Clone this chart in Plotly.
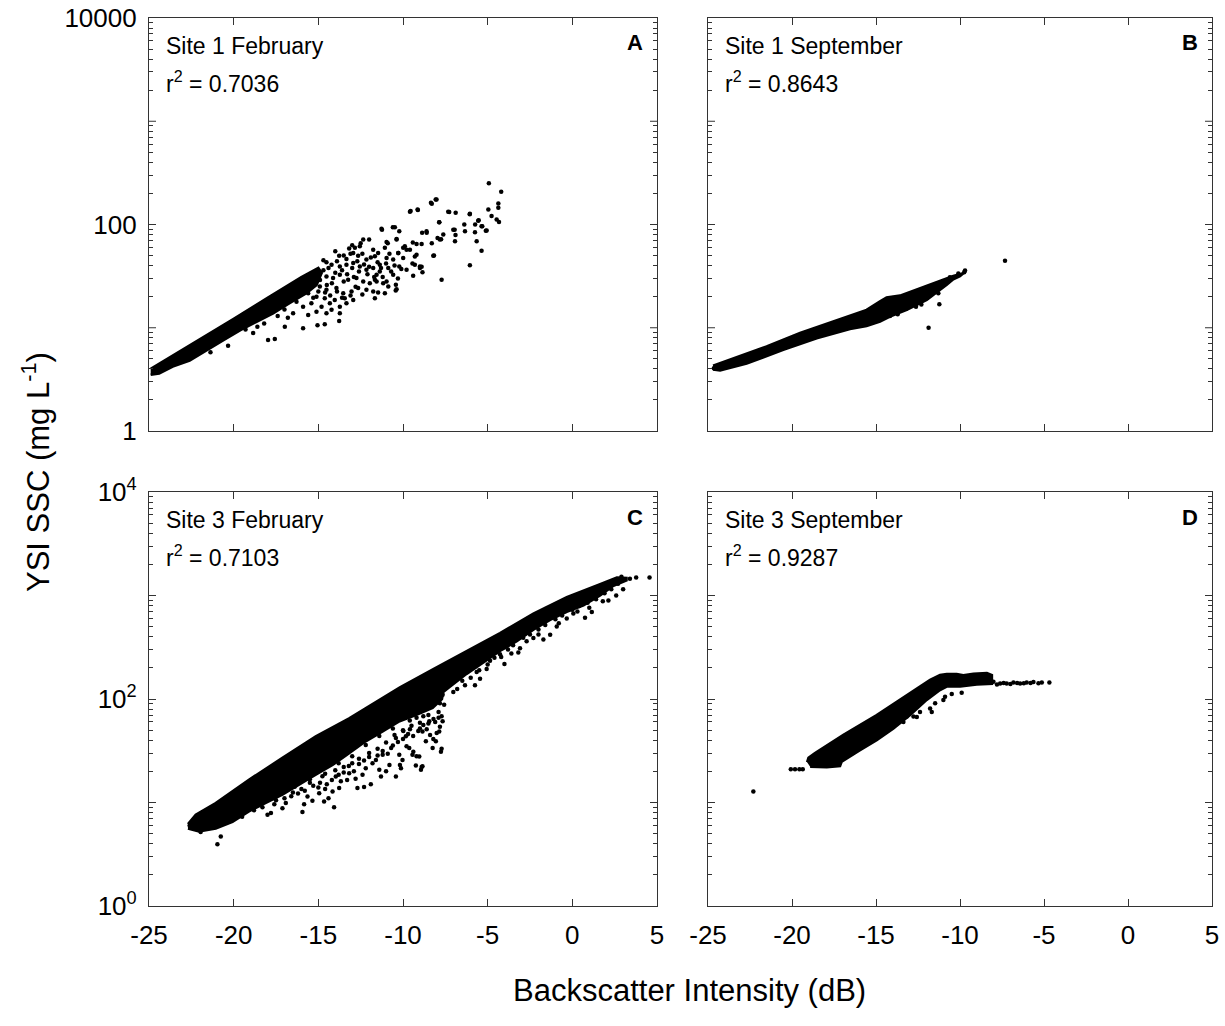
import plotly.graph_objects as go

OFF = 0                      # body margin removed by post_script below
W, H = 1225, 1026
FONT = "Liberation Sans, Arial, Helvetica, sans-serif"

# ---------------- data ----------------
# Panel A: Site 1 February
a_core_x = [-24.9, -22.0, -20.0, -18.0, -16.0, -15.0, -14.8, -15.1, -15.7, -16.7, -17.67, -18.65, -19.6, -20.6, -21.6, -22.6, -23.6, -24.4, -24.9]
a_core_y = [4.0, 7.7, 12.2, 19.5, 31, 38, 34, 26, 21.6, 17.3, 13.8, 11.4, 9.5, 7.6, 6.0, 4.8, 4.2, 3.6, 3.5]
a_x = [-13.18, -12.84, -12.55, -12.35, -12.0, -11.76, -11.47, -12.94, -13.77, -13.34, -12.65, -12.16, -11.66, -11.37,
       -10.97, -10.58, -10.28, -9.99, -9.79, -10.38, -9.59, -14.52, -14.22, -13.73, -13.34, -12.94, -12.55, -12.16,
       -11.76, -11.37, -10.87, -10.58, -10.22, -9.79, -9.30, -9.00, -8.85, -9.40, -14.91, -14.52, -14.13, -13.73,
       -13.24, -12.75, -12.35, -11.96, -11.56, -11.17, -10.87, -10.38, -10.42, -10.97, -15.31, -14.91, -14.52, -13.93,
       -13.53, -13.04, -12.65, -12.16, -11.76, -11.66, -11.47, -11.07, -15.60, -15.11, -14.62, -14.03, -13.44, -12.94,
       -13.73, -14.32, -14.81, -15.41, -15.90, -16.29, -16.49, -15.60, -15.11, -14.52, -14.22, -13.73, -13.34, -13.77,
       -14.62, -15.05, -15.90, -16.98, -17.57, -17.97, -18.85, -20.33, -21.37, -11.56, -11.66,
       -11.27, -10.48, -10.22, -10.97, -10.38, -9.89, -9.20, -8.90, -8.61, -8.87, -9.20, -9.00, -8.21, -7.86, -7.82,
       -7.62, -7.72, -7.03, -6.93, -6.34, -6.05, -5.75, -5.65, -5.36, -5.36, -6.05, -5.06, -9.14, -9.59, -8.35, -8.02,
       -7.33, -6.89, -5.56, -4.96, -4.93, -4.77, -4.37, -4.47, -11.07, -9.99, -4.20, -4.33, -4.37, -6.38, -6.95,
       -6.90, -7.27, -8.30, -8.07, -7.86, -7.75, -8.17, -7.96, -8.30, -8.60, -9.12, -9.55, -9.42, -9.30, -8.90, -9.44,
       -10.28, -10.60, -11.24, -10.90, -10.43, -5.11, -5.53, -5.74, -5.32, -6.06, -14.0, -13.5, -13.0, -12.5, -14.7,
       -15.8, -15.5, -15.2, -14.9, -14.7, -14.4, -14.2, -14.0, -13.9, -13.6, -13.5, -13.3, -13.1, -13.0, -12.9,
       -12.7, -12.6, -12.4, -12.3, -12.1, -12.0, -11.9, -11.7, -11.5, -11.3, -11.2, -11.0, -10.8, -10.7, -10.5,
       -10.3, -10.1, -14.6, -14.3, -13.9, -13.6, -13.1, -12.8, -12.4, -15.3, -15.0, -14.5, -16.3, -16.0, -16.6,
       -17.0, -17.4, -18.2, -16.8, -19.3, -18.6]
a_y = [58.4, 59.4, 61.6, 71.4, 71.4, 57.1, 53, 53, 49.9, 46.3, 49.9, 45.7, 49.2, 40.8,
       47.4, 45.7, 53, 59.4, 57.1, 71.4, 57.1, 43, 40.8, 39.3, 40.8, 42.4, 39.3, 36.5,
       37.8, 35.1, 37.8, 32.6, 39.3, 36.5, 40.8, 37.8, 34.4, 31.9, 33.8, 31.4, 30.3, 32.6,
       29.1, 30.3, 28.1, 27, 28.1, 27, 25.1, 23.6, 26.1, 28.1, 27, 25.1, 23.3, 24.2,
       21.6, 22.4, 24.2, 23.3, 22.4, 19.3, 21.9, 21.6, 21.6, 20, 19.3, 18.6, 19.3, 18.6,
       16, 17.3, 16, 17.3, 16, 17.9, 13.8, 13.3, 14.3, 13.8, 14.9, 13.8, 17.3, 11.6,
       10.8, 10.6, 9.9, 10.2, 7.8, 7.6, 8.9, 6.7, 5.8, 32.6, 29.1,
       91, 94, 86, 67.8, 72.5, 61.6, 64.8, 64.8, 86, 83, 51, 39.3, 49.9, 105, 71.4,
       80, 29.1, 89, 68.9, 86, 127, 84, 68.9, 96, 55.8, 40.2, 87.5, 140, 133, 162, 175,
       133, 130, 109, 140, 251, 121, 145, 112, 59.4, 47.4, 208, 106, 160, 100, 89,
       79, 132, 159, 175, 105, 72, 50, 74, 66, 83, 138, 135, 67, 49, 39, 42,
       53, 94, 89, 66, 23, 87, 110, 100, 96, 126, 55, 50, 63, 66, 45,
       24, 28, 31, 29, 36, 38, 27, 34, 44, 36, 28, 33, 52, 38, 31,
       44, 35, 52, 41, 33, 39, 48, 31, 43, 38, 31, 42, 52, 35, 40,
       30, 37, 22, 20.5, 22.5, 19.5, 20.5, 25, 21, 19.5, 22.5, 26, 20.5, 22.5, 19,
       15, 13, 11, 12.5, 9.6, 10.2]

# Panel B: Site 1 September
b_core_x = [-24.7, -21.51, -19.52, -17.54, -15.56, -14.76, -14.37, -13.57, -11.59, -10.4, -9.8, -10.0, -10.4, -10.79,
            -11.98, -13.17, -14.17, -14.76, -15.56, -16.55, -18.53, -20.52, -22.7, -24.28, -24.7]
b_core_y = [4.3, 6.6, 8.9, 11.5, 14.9, 18.0, 19.6, 20.5, 27, 31.8, 33.7, 31.5, 29.5, 26,
            18.6, 14.9, 12.8, 11.5, 10.4, 9.7, 7.9, 6.1, 4.5, 3.86, 3.95]
b_x = [-9.75, -9.7, -7.32, -11.29, -11.23, -11.87, -12.62, -13.71, -14.17, -24.65, -10.1, -10.6, -12.3, -13.2]
b_y = [34.5, 35.8, 44.5, 21.6, 16.9, 10.0, 16.0, 13.5, 13.0, 4.05, 33.5, 30.8, 16.8, 15.3]

# Panel C: Site 3 February
c_core_x = [-22.7, -22.24, -21.06, -19.1, -17.12, -15.15, -13.18, -11.2, -10.18, -8.21, -6.24, -4.27, -2.3, -0.33,
            1.64, 2.63, 3.2, 3.2, 2.43, 1.64, 0.66, -0.33, -1.31, -2.3, -3.28, -4.27, -5.25, -6.24, -7.23, -7.62,
            -7.7, -8.25, -9.24, -10.2, -11.2, -12.2, -13.18, -14.16, -15.15, -16.13, -17.12, -18.1, -19.1, -20.07,
            -21.06, -22.05, -22.7]
c_core_y = [6.2, 7.6, 9.9, 16.6, 27, 43.5, 65, 102, 130, 195, 291, 434, 670, 964,
            1290, 1490, 1480, 1400, 1240, 1000, 804, 695, 580, 467, 361, 291, 226, 175, 131, 117,
            100, 82, 70, 61, 48.6, 39, 30, 23, 18.6, 14.8, 11.9, 9.9, 8.2, 6.5,
            5.6, 5.25, 5.6]
c_x = [-20.96, -20.76, -21.95, -18.0, -17.8, -17.12, -16.92, -15.94, -15.84, -15.35, -14.66, -14.07, -14.16, -14.95,
       -15.64, -14.76, -13.67, -13.97, -13.77, -13.18, -12.69, -12.3, -11.9, -12.39, -12.2, -11.3, -11.4, -10.8,
       -10.42, -10.12, -10.03, -9.24, -8.94, -8.85, -10.22, -11.2, -11.6, -10.7, -9.63, -9.44, -9.04, -8.25, -7.76,
       -8.06, -7.86, -7.66, -7.57, -7.66, -8.45, -8.85, -8.65, -9.83, -10.42,
       -17.5, -16.5, -16.0, -15.5, -15.0, -14.5, -14.0, -13.5, -13.0, -12.6, -12.0, -11.5, -11.0, -10.5, -10.0,
       -9.5, -9.0, -8.5, -12.8, -11.0, -13.3, -14.4,
       -7.03, -6.34, -5.75, -5.45, -5.06, -4.01, -3.19, -3.09, -2.3, -1.71, -1.31, -0.92, 0.75, 1.15, 2.13, 2.59,
       0.06, -0.33, -2.7, -4.27, -4.86, -5.65, 3.77, 4.56, 3.4, 2.9, 3.0,
       -9.79, -9.39, -8.21, -8.01, -7.82, -7.72, -7.82, -9.0, -8.6, -9.59, -9.98, -9.2, -8.9, -10.18, -7.72,
       -8.4, -8.1, -7.9, -22.6, -22.4,
       -19.5, -18.8, -18.3, -17.6, -17.0, -16.6, -16.2, -15.8, -15.3, -14.9, -14.6, -14.2, -13.8, -13.5, -13.2,
       -12.9, -12.6, -12.3, -12.0, -11.8, -11.5, -11.2, -10.9, -10.6, -10.3, -10.0, -9.7, -9.4, -9.1, -8.8,
       -8.5, -8.2, -7.9, -9.6, -9.2, -8.8, -10.6, -11.4, -12.2, -13.0, -13.8, -14.6, -15.5, -16.4,
       -6.8, -6.5, -6.0, -5.5, -5.0, -4.6, -4.2, -3.8, -3.5, -2.9, -2.5, -2.0, -1.6, -1.0, -0.6, 0.0, 0.4, 0.9,
       1.4, 1.9, 2.3, 2.7, -3.6, -2.0, -0.8, 0.3, 1.0, 1.8]
c_y = [3.95, 4.7, 5.2, 7.6, 7.9, 8.8, 9.9, 8.1, 9.6, 10.4, 10.2, 9.0, 12.8, 12.3,
       11.4, 17.9, 16, 17.8, 13.8, 19.2, 13.8, 14.1, 15, 18.5, 21.4, 17.8, 20.7, 23,
       17.8, 21.4, 25.7, 22.8, 20.7, 22.4, 28.9, 28.9, 25.7, 33.6, 33.6, 28.9, 27.9, 33.6, 31,
       39, 48.6, 61, 88, 110, 61, 48.6, 39, 43.6, 42,
       10.5, 12.5, 13.5, 15.5, 14.0, 15.0, 20.5, 22.0, 24.0, 26.5, 30.0, 33.0, 38.0, 45.0, 50.0,
       55.0, 52.0, 70.0, 17.0, 20.0, 16.5, 11.0,
       117, 136, 136, 157, 195, 218, 281, 310, 388, 375, 417, 502, 611, 693, 894, 1000,
       670, 600, 361, 270, 234, 182, 1490, 1490, 1450, 1520, 1150,
       35, 31, 41, 47, 54, 68, 91, 59, 51, 51, 49, 28, 22, 23, 33,
       45, 60, 75, 6.0, 6.1,
       7.3, 8.4, 9.0, 9.6, 11.0, 11.5, 12.2, 13.0, 14.5, 15.5, 13.5, 16.5, 18.5, 19.5, 22.5,
       20.0, 23.5, 25.5, 27.5, 24.0, 28.5, 31.5, 29.5, 35.5, 38.5, 41.0, 46.0, 44.0, 49.0, 56.0,
       58.0, 64.0, 66.0, 62, 66, 68, 52, 44, 36, 28, 24, 19, 16.8, 14.2,
       125, 150, 160, 190, 215, 250, 255, 300, 330, 390, 420, 470, 520, 590, 640, 730, 790, 850,
       920, 1050, 1150, 1300, 275, 420, 540, 700, 760, 880]

# Panel D: Site 3 September
d_core_x = [-19.1, -19.02, -18.63, -16.94, -14.96, -12.97, -11.78, -11.19, -10.79, -10.2, -9.8, -9.2, -8.4, -8.1,
            -8.1, -9.0, -9.99, -10.79, -11.19, -11.98, -12.97, -13.96, -14.96, -15.95, -17.04, -17.14, -17.93, -18.92]
d_core_y = [24.5, 27, 30, 45, 70, 113, 153, 171, 174, 174, 170, 175, 178, 170,
            140, 138, 132, 132, 122, 98, 70, 52, 40, 32, 24.8, 22.5, 21.9, 22.2]
d_x = [-22.3, -20.07, -19.82, -19.56, -19.36,
       -13.57, -13.17, -12.77, -12.57, -11.68, -11.78, -11.48, -10.99, -10.89, -10.49, -9.9, -13.37, -12.38,
       -8.01, -7.61, -7.22, -6.82, -6.42, -6.03, -5.63, -5.33, -5.13, -4.68, -7.8, -7.4, -7.0, -6.6, -6.2, -5.8]
d_y = [12.8, 21, 21, 21, 21,
       62.6, 67.6, 67.6, 67, 75, 81, 91, 98, 105, 112, 115, 60, 75,
       147, 141, 141, 144, 141, 144, 146, 142, 144, 144, 138, 143, 140, 143, 142, 143]

# ---------------- text and ticks ----------------
x_ticks = [-25, -20, -15, -10, -5, 0, 5]
x_ticklabels = ["-25", "-20", "-15", "-10", "-5", "0", "5"]
y_ticks = [1, 100, 10000]
y_labels_top = ["1", "100", "10000"]
y_labels_bottom = ["10<sup>0</sup>", "10<sup>2</sup>", "10<sup>4</sup>"]
y_unlabelled_decades = [10, 1000]
y_minor = [m * 10 ** e for e in range(4) for m in range(2, 10)]
panel_titles = ["Site 1 February", "Site 1 September", "Site 3 February", "Site 3 September"]
r2_values = ["0.7036", "0.8643", "0.7103", "0.9287"]
panel_letters = ["A", "B", "C", "D"]
x_title = "Backscatter Intensity (dB)"
y_title = "YSI SSC (mg L<sup>-1</sup>)"

# ---------------- layout geometry (screen pixels) ----------------
cols = [(149, 657), (708, 1212)]
rows = [(18, 431), (492, 906)]


def px(x):
    return (x - OFF) / W


def py(y):
    return 1 - (y - OFF) / H


fig = go.Figure()
panels = [
    (a_core_x, a_core_y, a_x, a_y),
    (b_core_x, b_core_y, b_x, b_y),
    (c_core_x, c_core_y, c_x, c_y),
    (d_core_x, d_core_y, d_x, d_y),
]
for i, (cx, cy, sx, sy) in enumerate(panels):
    ax = "" if i == 0 else str(i + 1)
    fig.add_trace(go.Scatter(x=cx, y=cy, mode="lines", fill="toself", fillcolor="black",
                             line=dict(color="black", width=2.5), xaxis="x" + ax, yaxis="y" + ax,
                             hoverinfo="skip", showlegend=False))
    fig.add_trace(go.Scatter(x=sx, y=sy, mode="markers", marker=dict(color="black", size=4.5),
                             xaxis="x" + ax, yaxis="y" + ax, showlegend=False))

layout = dict(width=W, height=H, margin=dict(l=0, r=0, t=0, b=0),
              paper_bgcolor="white", plot_bgcolor="white",
              font=dict(family=FONT, color="black"), showlegend=False)

LC = "#333333"
axis_line = dict(showline=True, linecolor=LC, linewidth=1.2, mirror="ticks",
                 showgrid=False, zeroline=False, ticks="inside", tickcolor=LC)
annotations = []
shapes = []
for i in range(4):
    r, c = divmod(i, 2)
    x0, x1 = cols[c]
    y0, y1 = rows[r]
    key = "" if i == 0 else str(i + 1)
    xa = dict(axis_line, domain=[px(x0), px(x1)], range=[-25, 5], tickmode="array",
              tickvals=x_ticks, ticktext=x_ticklabels, ticklen=7, tickwidth=1,
              showticklabels=(r == 1), tickfont=dict(size=26, family=FONT),
              ticklabelstandoff=6, ticklabeloverflow="allow", anchor="y" + key, automargin=False)
    ya = dict(axis_line, domain=[py(y1), py(y0)], type="log", range=[0, 4],
              tickmode="array", tickvals=y_ticks,
              ticktext=(y_labels_top if r == 0 else y_labels_bottom), ticklen=7, tickwidth=1,
              showticklabels=(c == 0), tickfont=dict(size=26, family=FONT),
              ticklabelstandoff=6, ticklabeloverflow="allow", anchor="x" + key, automargin=False,
              minor=dict(tickmode="array", tickvals=y_minor, ticks="inside", ticklen=4,
                         tickcolor=LC, showgrid=False))
    layout["xaxis" + key] = xa
    layout["yaxis" + key] = ya
    # full-length ticks at the unlabelled decades (left and right sides)
    wfrac = 7 / (x1 - x0)
    for v in y_unlabelled_decades:
        for (a, b) in [(0, wfrac), (1 - wfrac, 1)]:
            shapes.append(dict(type="line", xref="x" + key + " domain", yref="y" + key,
                               x0=a, x1=b, y0=v, y1=v, line=dict(color=LC, width=1)))
    annotations.append(dict(xref="paper", yref="paper", x=px(x0 + 15), y=py(y0 + 28),
                            text=panel_titles[i], showarrow=False, xanchor="left", yanchor="middle",
                            font=dict(size=23, family=FONT)))
    annotations.append(dict(xref="paper", yref="paper", x=px(x0 + 15), y=py(y0 + 64),
                            text="r<sup>2</sup> = " + r2_values[i], showarrow=False, xanchor="left",
                            yanchor="middle", font=dict(size=23, family=FONT)))
    annotations.append(dict(xref="paper", yref="paper", x=px(x1 - 12), y=py(y0 + 25),
                            text="<b>" + panel_letters[i] + "</b>", showarrow=False, xanchor="right",
                            yanchor="middle", font=dict(size=22, family=FONT)))

annotations.append(dict(xref="paper", yref="paper", x=px(689), y=py(990), text=x_title,
                        showarrow=False, xanchor="center", yanchor="middle",
                        font=dict(size=31, family=FONT)))
annotations.append(dict(xref="paper", yref="paper", x=px(36), y=py(472), text=y_title,
                        showarrow=False, xanchor="center", yanchor="middle", textangle=-90,
                        font=dict(size=31, family=FONT)))
layout["annotations"] = annotations
layout["shapes"] = shapes
fig.update_layout(**layout)
fig.write_html("out.html", config={"displayModeBar": False},
               post_script="document.body.style.margin='0';document.body.style.overflow='hidden';")
